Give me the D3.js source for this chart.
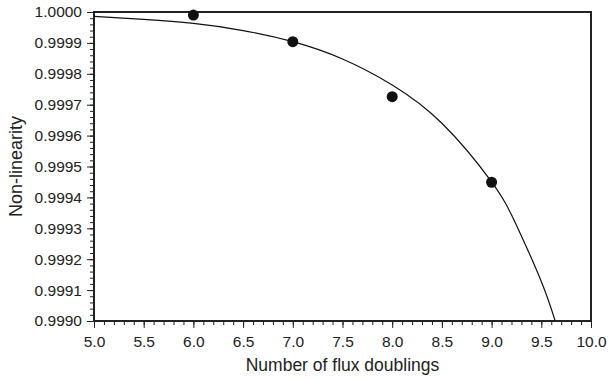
<!DOCTYPE html>
<html>
<head>
<meta charset="utf-8">
<script src="https://cdn.jsdelivr.net/npm/d3@7"></script>
<style>
  body { margin: 0; background: #fff; }
  text { font-family: "Liberation Sans", Arial, sans-serif; fill: #222; }
</style>
</head>
<body>
<svg width="608" height="379"></svg>
<script>
// measured points
const doublings = [6.0, 7.0, 8.0, 9.0];
const nonLinearity = [0.99999, 0.999904, 0.999726, 0.999449];

// fitted curve
const fitX = [5.0, 5.5, 6.0, 6.5, 7.0, 7.5, 8.0, 8.5, 9.0, 9.25, 9.5, 9.64];
const fitY = [0.999986, 0.999976, 0.999963, 0.99994, 0.999904, 0.999848, 0.999764, 0.99964, 0.99945, 0.99931, 0.999128, 0.999];

const xTicks = [5.0, 5.5, 6.0, 6.5, 7.0, 7.5, 8.0, 8.5, 9.0, 9.5, 10.0];
const yTicks = [0.999, 0.9991, 0.9992, 0.9993, 0.9994, 0.9995, 0.9996, 0.9997, 0.9998, 0.9999, 1.0];

const margin = {left: 94, right: 17, top: 12, bottom: 58};
const width = 608, height = 379;

const svg = d3.select("svg");

const x = d3.scaleLinear().domain([5, 10]).range([margin.left, width - margin.right]);
const y = d3.scaleLinear().domain([0.999, 1.0]).range([height - margin.bottom, margin.top]);

const xMinor = d3.range(50, 101).map(d => d / 10);
const yMinor = d3.range(0, 51).map(d => 0.999 + d * 0.00002);

// minor ticks
svg.append("g")
    .attr("transform", `translate(0,${y.range()[0]})`)
    .call(d3.axisBottom(x).tickValues(xMinor).tickSize(4).tickFormat(""))
    .call(g => g.select(".domain").remove());
svg.append("g")
    .attr("transform", `translate(${margin.left},0)`)
    .call(d3.axisLeft(y).tickValues(yMinor).tickSize(4).tickFormat(""))
    .call(g => g.select(".domain").remove());

// major ticks
svg.append("g")
    .attr("transform", `translate(0,${y.range()[0]})`)
    .call(d3.axisBottom(x).tickValues(xTicks).tickSize(7).tickSizeOuter(0).tickPadding(8).tickFormat(d3.format(".1f")))
    .call(g => g.select(".domain").remove())
    .call(g => g.selectAll("text").attr("font-size", 15.5));
svg.append("g")
    .attr("transform", `translate(${margin.left},0)`)
    .call(d3.axisLeft(y).tickValues(yTicks).tickSize(7).tickSizeOuter(0).tickPadding(5).tickFormat(d3.format(".4f")))
    .call(g => g.select(".domain").remove())
    .call(g => g.selectAll("text").attr("font-size", 15.5));

svg.selectAll(".tick line").attr("stroke", "#222");

// frame
svg.append("rect")
    .attr("x", margin.left)
    .attr("y", margin.top)
    .attr("width", x.range()[1] - margin.left)
    .attr("height", y.range()[0] - margin.top)
    .attr("fill", "none")
    .attr("stroke", "#222")
    .attr("stroke-width", 2);

svg.append("clipPath").attr("id", "plot")
  .append("rect")
    .attr("x", margin.left)
    .attr("y", margin.top)
    .attr("width", x.range()[1] - margin.left)
    .attr("height", y.range()[0] - margin.top);

const line = d3.line()
    .x((d, i) => x(fitX[i]))
    .y(d => y(d))
    .curve(d3.curveNatural);

svg.append("path")
    .attr("clip-path", "url(#plot)")
    .attr("d", line(fitY))
    .attr("fill", "none")
    .attr("stroke", "#111")
    .attr("stroke-width", 1.2);

svg.selectAll(".pt")
    .data(nonLinearity)
    .enter()
    .append("circle")
        .attr("cx", (d, i) => x(doublings[i]))
        .attr("cy", d => y(d))
        .attr("r", 5.5)
        .attr("fill", "#111");

svg.append("text")
    .attr("x", (margin.left + x.range()[1]) / 2)
    .attr("y", 371)
    .attr("text-anchor", "middle")
    .attr("font-size", 17.5)
    .text("Number of flux doublings");

svg.append("text")
    .attr("transform", `translate(22,${(margin.top + y.range()[0]) / 2}) rotate(-90)`)
    .attr("text-anchor", "middle")
    .attr("font-size", 18)
    .text("Non-linearity");
</script>
</body>
</html>
